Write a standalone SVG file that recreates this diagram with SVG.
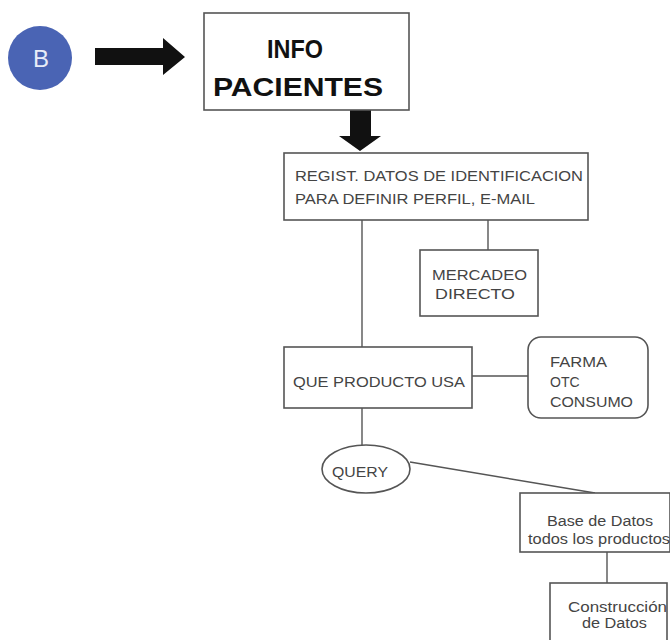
<svg xmlns="http://www.w3.org/2000/svg" width="670" height="640" viewBox="0 0 670 640">
  <style>
    .box { fill: #ffffff; stroke: #555555; stroke-width: 1.6; }
    .link { stroke: #555555; stroke-width: 1.4; fill: none; }
    .lbl { font-family: "Liberation Sans", Arial, sans-serif; font-size: 14px; fill: #444444; }
    .big { font-family: "Liberation Sans", Arial, sans-serif; font-size: 25px; font-weight: bold; fill: #111111; }
  </style>
  <rect width="670" height="640" fill="#ffffff"/>

  <g id="badge-b">
    <circle cx="40" cy="58" r="32" fill="#4a64b4"/>
    <text x="41" y="67" text-anchor="middle" font-family="Liberation Sans, Arial, sans-serif" font-size="24" fill="#e8ecf8">B</text>
  </g>

  <g id="connectors">
    <!-- thick block arrow into the patient info box -->
    <polygon points="95,48 163,48 163,38 185,57 163,75 163,65 95,65" fill="#111111"/>
    <!-- thick block arrow down to registration -->
    <polygon points="350,110 371,110 371,136 381,136 360,151 339,136 350,136" fill="#111111"/>
    <line class="link" x1="362" y1="220" x2="362" y2="347"/>
    <line class="link" x1="488" y1="220" x2="488" y2="250"/>
    <line class="link" x1="472" y1="376" x2="528" y2="376"/>
    <line class="link" x1="362" y1="408" x2="362" y2="446"/>
    <line class="link" x1="410" y1="462" x2="595" y2="493"/>
    <line class="link" x1="607" y1="552" x2="607" y2="583"/>
  </g>

  <g id="info-pacientes">
    <rect class="box" x="204" y="13" width="205" height="97"/>
    <text class="big" x="267" y="58" textLength="56" lengthAdjust="spacingAndGlyphs">INFO</text>
    <text class="big" x="213" y="96" textLength="170" lengthAdjust="spacingAndGlyphs">PACIENTES</text>
  </g>

  <g id="registro">
    <rect class="box" x="284" y="153" width="304" height="67"/>
    <text class="lbl" x="295" y="181" textLength="288" lengthAdjust="spacingAndGlyphs">REGIST. DATOS DE IDENTIFICACION</text>
    <text class="lbl" x="295" y="204" textLength="240" lengthAdjust="spacingAndGlyphs">PARA DEFINIR PERFIL, E-MAIL</text>
  </g>

  <g id="mercadeo">
    <rect class="box" x="420" y="250" width="118" height="66"/>
    <text class="lbl" x="432" y="280" textLength="95" lengthAdjust="spacingAndGlyphs">MERCADEO</text>
    <text class="lbl" x="435" y="299" textLength="80" lengthAdjust="spacingAndGlyphs">DIRECTO</text>
  </g>

  <g id="producto">
    <rect class="box" x="284" y="347" width="188" height="61"/>
    <text class="lbl" x="293" y="387" textLength="172" lengthAdjust="spacingAndGlyphs">QUE PRODUCTO USA</text>
  </g>

  <g id="categorias">
    <rect class="box" x="528" y="337" width="120" height="81" rx="13"/>
    <text class="lbl" x="550" y="367" textLength="57" lengthAdjust="spacingAndGlyphs">FARMA</text>
    <text class="lbl" x="550" y="387">OTC</text>
    <text class="lbl" x="550" y="407" textLength="83" lengthAdjust="spacingAndGlyphs">CONSUMO</text>
  </g>

  <g id="query">
    <ellipse class="box" cx="366" cy="469" rx="44" ry="24"/>
    <text class="lbl" x="332" y="477" textLength="56" lengthAdjust="spacingAndGlyphs">QUERY</text>
  </g>

  <g id="base-datos">
    <rect class="box" x="520" y="493" width="150" height="59"/>
    <text class="lbl" x="547" y="526" textLength="106" lengthAdjust="spacingAndGlyphs">Base de Datos</text>
    <text class="lbl" x="528" y="544" textLength="142" lengthAdjust="spacingAndGlyphs">todos los productos</text>
  </g>

  <g id="construccion">
    <rect class="box" x="550" y="583" width="117" height="62"/>
    <text class="lbl" x="568" y="612" textLength="99" lengthAdjust="spacingAndGlyphs">Construcción</text>
    <text class="lbl" x="582" y="628" textLength="65" lengthAdjust="spacingAndGlyphs">de Datos</text>
  </g>
</svg>
